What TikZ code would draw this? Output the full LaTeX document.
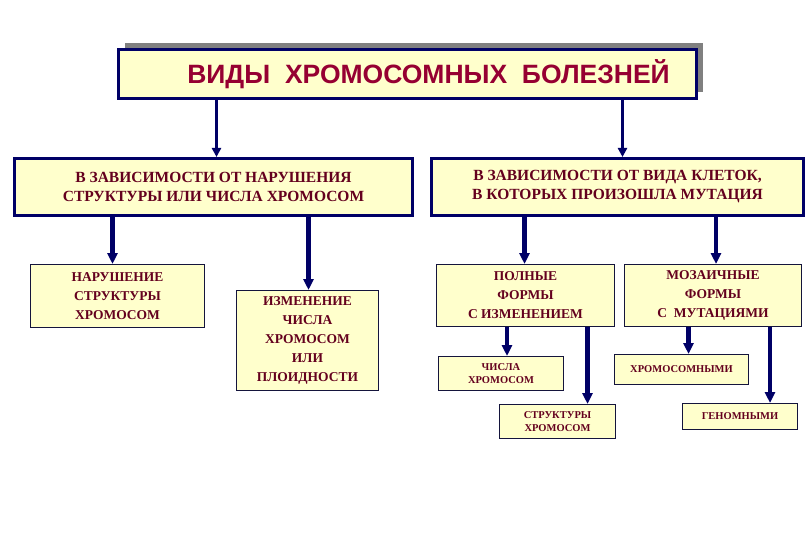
\documentclass[tikz,border=0pt]{standalone}
\usepackage{fontspec}
\setmainfont{Liberation Serif}
\newfontfamily\headfont{Liberation Sans}
\usetikzlibrary{arrows.meta,shadows}
\definecolor{navy}{RGB}{0,0,102}
\definecolor{darkframe}{RGB}{20,20,60}
\definecolor{paleyellow}{RGB}{255,255,204}
\definecolor{headred}{RGB}{150,0,50}
\definecolor{boxred}{RGB}{100,0,30}

\begin{document}
\begin{tikzpicture}[x=1pt,y=-1pt,
  bigbox/.style={draw=navy,line width=3pt,fill=paleyellow,anchor=north west,inner sep=0pt,
    text=boxred,align=center,font=\bfseries\fontsize{15.5}{19}\selectfont},
  smallbox/.style={draw=darkframe,line width=1pt,fill=paleyellow,anchor=north west,inner sep=0pt,
    text=boxred,align=center,font=\bfseries\fontsize{13.5}{19}\selectfont},
  tinybox/.style={smallbox,font=\bfseries\fontsize{10.5}{13.5}\selectfont},
  link/.style={draw=navy,line width=3pt,-{Triangle[width=9pt,length=9pt]}},
  thicklink/.style={draw=navy,line width=4.5pt,-{Triangle[width=10pt,length=11pt]}}]
\useasboundingbox (0,0) rectangle (810,540);

% title
\node[bigbox,minimum width=578,minimum height=49,
  drop shadow={shadow xshift=6pt,shadow yshift=6pt,fill=gray,opacity=1}] (title) at (117,48) {};
\node[font=\headfont\bfseries\fontsize{26.5}{30}\selectfont,text=headred] (titletext)
  at ([xshift=21pt]title.center) {ВИДЫ\ \ ХРОМОСОМНЫХ\ \ БОЛЕЗНЕЙ};

% second level
\node[bigbox,minimum width=398,minimum height=57] (bystruct) at (13,157)
  {В ЗАВИСИМОСТИ ОТ НАРУШЕНИЯ\\СТРУКТУРЫ ИЛИ ЧИСЛА ХРОМОСОМ};
\node[bigbox,minimum width=372,minimum height=57] (bycell) at (430,157)
  {В ЗАВИСИМОСТИ ОТ ВИДА КЛЕТОК,\\В КОТОРЫХ ПРОИЗОШЛА МУТАЦИЯ};

% third level
\node[smallbox,minimum width=174,minimum height=63] (structure) at (30,264)
  {НАРУШЕНИЕ\\СТРУКТУРЫ\\ХРОМОСОМ};
\node[smallbox,minimum width=142,minimum height=100] (number) at (236,290)
  {ИЗМЕНЕНИЕ\\ЧИСЛА\\ХРОМОСОМ\\ИЛИ\\ПЛОИДНОСТИ};
\node[smallbox,minimum width=178,minimum height=62] (full) at (436,264)
  {ПОЛНЫЕ\\ФОРМЫ\\С ИЗМЕНЕНИЕМ};
\node[smallbox,minimum width=177,minimum height=62] (mosaic) at (624,264)
  {МОЗАИЧНЫЕ\\ФОРМЫ\\С\ \ МУТАЦИЯМИ};

% fourth level
\node[tinybox,minimum width=125,minimum height=34] (fullnum) at (438,356) {ЧИСЛА\\ХРОМОСОМ};
\node[tinybox,minimum width=116,minimum height=34] (fullstruct) at (499,404) {СТРУКТУРЫ\\ХРОМОСОМ};
\node[tinybox,minimum width=134,minimum height=30] (mosaicchrom) at (614,354) {ХРОМОСОМНЫМИ};
\node[tinybox,minimum width=115,minimum height=26] (mosaicgen) at (682,403) {ГЕНОМНЫМИ};

% arrows
\foreach \from/\to/\dx/\sty in {title/bystruct/3/link, title/bycell/5/link,
    bystruct/structure/-5/thicklink, bystruct/number/1/thicklink,
    bycell/full/-1/thicklink, bycell/mosaic/3/thicklink,
    full/fullnum/6/thicklink, full/fullstruct/30/thicklink,
    mosaic/mosaicchrom/7/thicklink, mosaic/mosaicgen/30/thicklink}
{
  \coordinate (tip) at ([xshift=\dx pt]\to.north);
  \draw[\sty] (\from.south -| tip) -- (tip);
}
\end{tikzpicture}
\end{document}
